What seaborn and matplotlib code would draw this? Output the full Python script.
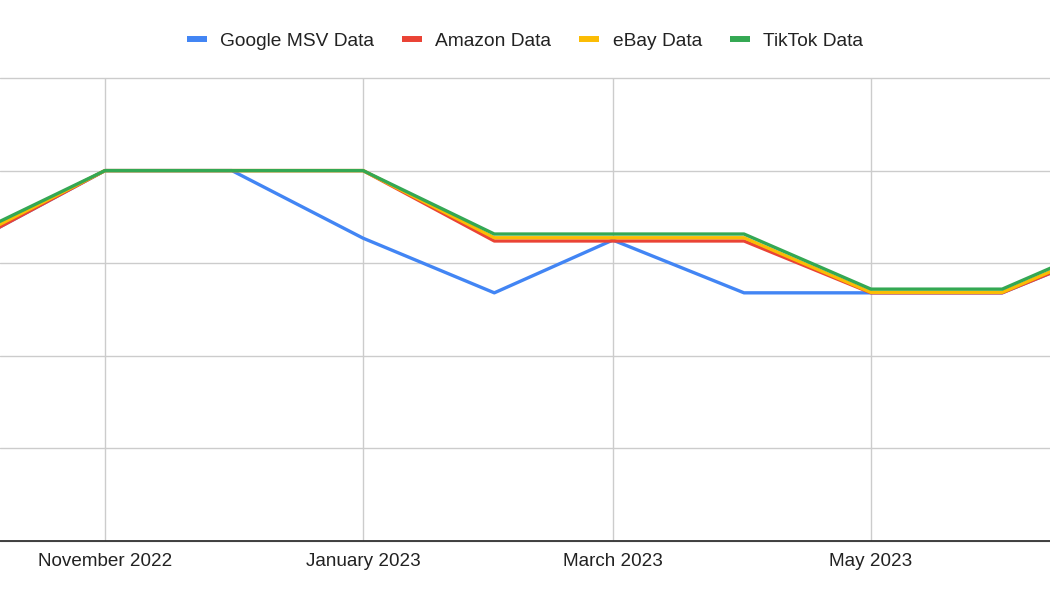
import matplotlib
matplotlib.use("Agg")
import matplotlib.pyplot as plt
import matplotlib.dates as mdates
import seaborn as sns
import pandas as pd
from matplotlib.lines import Line2D

# ---- data ----
months = ["2022-10-01", "2022-11-01", "2022-12-01", "2023-01-01", "2023-02-01",
          "2023-03-01", "2023-04-01", "2023-05-01", "2023-06-01", "2023-07-01"]
google = [64.8, 80.0, 80.0, 65.4, 53.6, 65.0, 53.6, 53.6, 53.6, 64.8]
amazon = [64.8, 80.0, 80.0, 80.0, 64.8, 64.8, 64.8, 53.6, 53.6, 64.8]
ebay = [65.5, 80.0, 80.0, 80.0, 65.5, 65.5, 65.5, 53.7, 53.7, 65.5]
tiktok = [66.3, 80.0, 80.0, 80.0, 66.3, 66.3, 66.3, 54.4, 54.4, 66.3]
series_names = ["Google MSV Data", "Amazon Data", "eBay Data", "TikTok Data"]
colors = ["#4285F4", "#EA4335", "#FBBC04", "#34A853"]
tick_dates = ["2022-11-01", "2023-01-01", "2023-03-01", "2023-05-01"]
tick_labels = ["November 2022", "January 2023", "March 2023", "May 2023"]

rows = []
for name, vals in zip(series_names, [google, amazon, ebay, tiktok]):
    for m, v in zip(months, vals):
        rows.append({"date": pd.Timestamp(m), "value": v, "series": name})
df = pd.DataFrame(rows)

sns.set_style("white")
plt.rcParams["font.family"] = ["Liberation Sans", "DejaVu Sans"]

fig = plt.figure(figsize=(10.5, 6), dpi=100)
ax = fig.add_axes([0.0, 59 / 600, 1.0, (541 - 78) / 600])

sns.lineplot(data=df, x="date", y="value", hue="series", hue_order=series_names,
             palette=colors, linewidth=2.4, ax=ax, legend=False, sort=True)
for ln in ax.get_lines():
    ln.set_solid_joinstyle("round")
    ln.set_solid_capstyle("round")

# x range
left = pd.Timestamp("2022-11-01") - pd.Timedelta(days=24.8)
right = pd.Timestamp("2023-05-01") + pd.Timedelta(days=42.3)
ax.set_xlim(mdates.date2num(left), mdates.date2num(right))
ax.set_ylim(0, 100)

ax.set_xticks([mdates.date2num(pd.Timestamp(d)) for d in tick_dates])
ax.set_xticklabels(tick_labels)
ax.set_yticks([0, 20, 40, 60, 80, 100])
ax.tick_params(axis="y", length=0, labelleft=False)
ax.tick_params(axis="x", length=0, pad=8.6, labelsize=13.6, labelcolor="#222222")
ax.set_xlabel("")
ax.set_ylabel("")

ax.grid(True, color="#cccccc", linewidth=1.0)
ax.set_axisbelow(True)
for gl in ax.get_ygridlines():
    gl.set_clip_on(False)

for s in ["top", "left", "right"]:
    ax.spines[s].set_visible(False)
ax.spines["bottom"].set_color("#333333")
ax.spines["bottom"].set_linewidth(1.3)

handles = [Line2D([0], [0], color=c, linewidth=4.3, solid_capstyle="butt") for c in colors]
fig.legend(handles, series_names, loc="center", bbox_to_anchor=(0.5, 1 - 41 / 600),
           ncol=4, frameon=False, fontsize=13.8, handlelength=1.05,
           handletextpad=0.7, columnspacing=1.45, labelcolor="#222222")

fig.savefig("out.png", dpi=100)
